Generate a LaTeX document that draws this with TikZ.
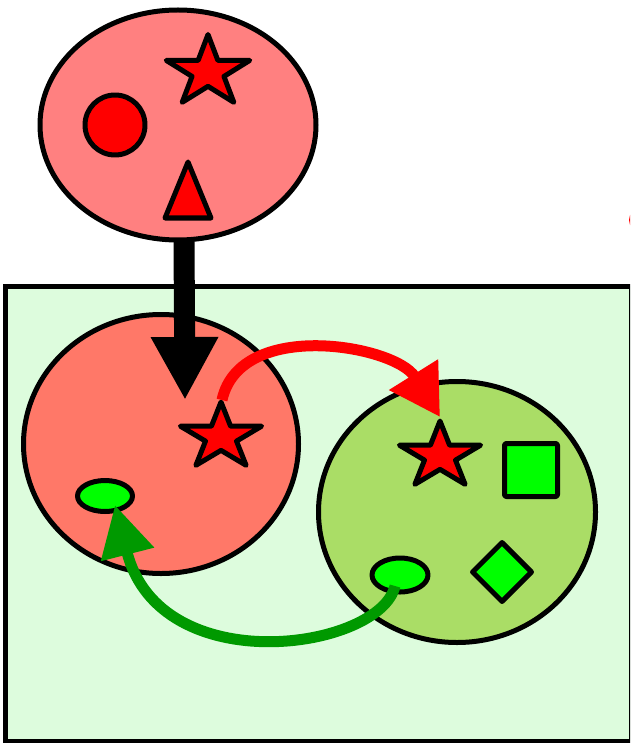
\documentclass[tikz,border=0pt]{standalone}
\usetikzlibrary{shapes.geometric,arrows.meta}
\definecolor{topfill}{RGB}{255,128,128}
\definecolor{leftfill}{RGB}{255,120,104}
\definecolor{rightfill}{RGB}{170,221,102}
\definecolor{boxfill}{RGB}{221,252,221}
\definecolor{brightgreen}{RGB}{0,255,0}
\definecolor{darkgreen}{RGB}{0,153,0}
\begin{document}
\begin{tikzpicture}[x=1pt,y=-1pt,
  outl/.style={draw=black,line width=5pt,line join=round},
  blob/.style={outl,ellipse,inner sep=0pt},
  starshape/.style={outl,star,star points=5,star point ratio=2.618,minimum size=70pt,inner sep=0pt,fill=red,xscale=1.22,transform shape},
  flow/.style={line width=11pt}
]
\useasboundingbox (0,0) rectangle (630,743);
\clip (0,0) rectangle (630,743);

% container box
\draw[line width=5pt,fill=boxfill] (5,286) rectangle (631,741);
\coordinate (box) at (318,513);

% off-page red sliver
\fill[red] (641,220) circle (12);
\coordinate (sliver) at (641,220);

% top ellipse
\node[blob,fill=topfill,minimum width=276pt,minimum height=230pt] (top) at (178,125) {};
\node[outl,circle,fill=red,minimum size=60pt,inner sep=0pt] (tcirc) at (115,125) {};
\node[starshape,minimum size=75pt,xscale=0.96] (tstar) at (208,72) {};
\draw[outl,fill=red] (188,162) -- (211,218) -- (165,218) -- cycle;
\coordinate (ttri) at (188,200);

% left and right blobs
\node[blob,fill=leftfill,minimum width=275pt,minimum height=259pt] (left) at (161,444) {};
\node[blob,fill=rightfill,minimum width=277pt,minimum height=261pt] (right) at (457,512) {};

% contents of left
\node[starshape] (lstar) at (221,437) {};
\node[blob,fill=brightgreen,minimum width=55pt,minimum height=31pt] (lell) at (105,496) {};

% contents of right
\node[starshape] (rstar) at (440,456) {};
\node[outl,rectangle,rounded corners=2pt,fill=brightgreen,minimum size=53pt,inner sep=0pt] (rsq) at (531,470) {};
\node[outl,diamond,aspect=1,fill=brightgreen,minimum width=61pt,minimum height=61pt,inner sep=0pt] (rdia) at (502,572) {};
\node[blob,fill=brightgreen,minimum width=56pt,minimum height=34pt] (rell) at (400,575) {};

% black arrow
\coordinate (bstart) at (184,241);
\coordinate (bend) at (185,400);
\draw[line width=21pt,-{Triangle[length=63pt,width=63pt]}] (bstart) -- (bend);

% red arrow
\coordinate (rstart) at (222,400);
\coordinate (rtip) at (440,417);
\draw[flow,red,-{Triangle[length=50pt,width=55pt]}] (rstart) .. controls (240,318) and (395,345) .. (rtip);

% green arrow
\coordinate (gstart) at (395,586);
\coordinate (gtip) at (115,505);
\draw[flow,darkgreen,-{Triangle[length=51pt,width=52pt]}] (gstart) .. controls (380,650) and (160,682) .. (gtip);
\end{tikzpicture}
\end{document}
